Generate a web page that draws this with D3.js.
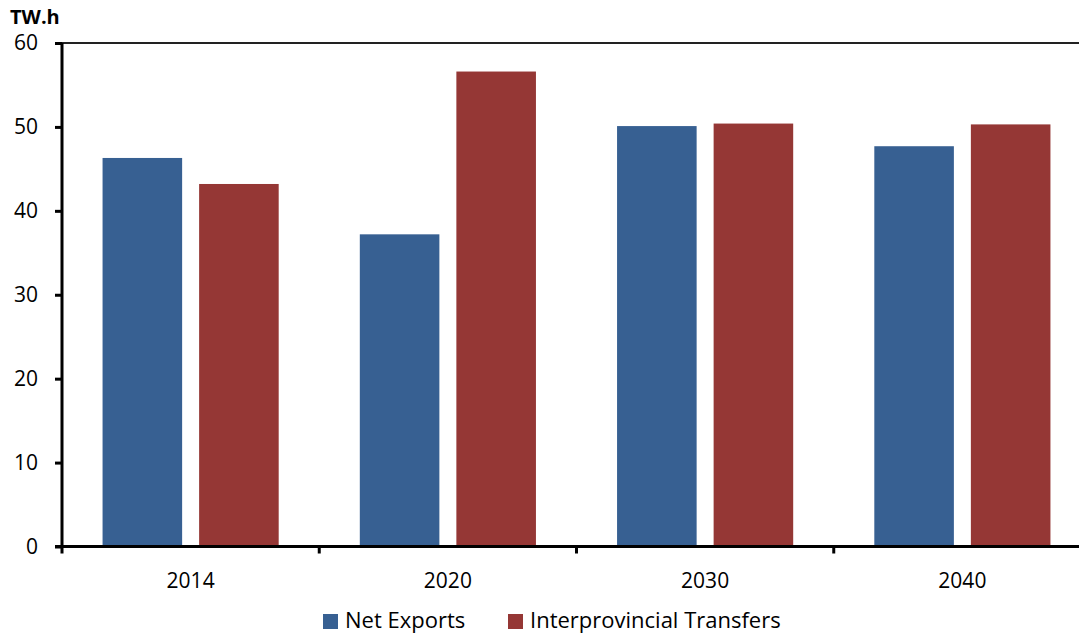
<!DOCTYPE html>
<meta charset="utf-8">
<style>
body { margin: 0; background: #fff; }
svg text { font-family: "Open Sans", Calibri, sans-serif; fill: #000; }
.axis text { font-size: 21px; }
.axis path, .axis line { stroke: #000; stroke-width: 3px; }
</style>
<body>
<script src="https://cdn.jsdelivr.net/npm/d3@7/dist/d3.min.js"></script>
<script>
// data
var years = ["2014", "2020", "2030", "2040"];
var seriesNames = ["Net Exports", "Interprovincial Transfers"];
var netExports = [46.3, 37.2, 50.1, 47.7];
var interTransfers = [43.2, 56.6, 50.4, 50.3];
var yTicks = [0, 10, 20, 30, 40, 50, 60];
var colors = ["#376092", "#953735"];

var margin = {top: 43, left: 62},
    width = 1029,   // plot runs past the right edge, like the original
    height = 503.5;

var svg = d3.select("body").append("svg")
    .attr("width", 1079)
    .attr("height", 635);

var g = svg.append("g")
    .attr("transform", "translate(" + margin.left + "," + margin.top + ")");

var x0 = d3.scaleBand().domain(years).range([0, width]);
var x1 = d3.scaleBand().domain(seriesNames)
    .range([0, x0.bandwidth()])
    .paddingInner(0.176)
    .paddingOuter(0.42);
var y = d3.scaleLinear().domain([0, 60]).range([height, 0]);

// plot border (top / right)
g.append("rect")
    .attr("x", 0).attr("y", 0)
    .attr("width", width).attr("height", height)
    .attr("fill", "none")
    .attr("stroke", "#222")
    .attr("stroke-width", 2);

var rows = years.map(function(yr, i) {
  return {year: yr, values: [netExports[i], interTransfers[i]]};
});

g.selectAll(".grp")
  .data(rows)
  .enter().append("g")
    .attr("transform", function(d) { return "translate(" + x0(d.year) + ",0)"; })
  .selectAll("rect")
  .data(function(d) { return d.values.map(function(v, j) { return {name: seriesNames[j], v: v, c: colors[j]}; }); })
  .enter().append("rect")
    .attr("x", function(d) { return x1(d.name); })
    .attr("width", x1.bandwidth())
    .attr("y", function(d) { return y(d.v); })
    .attr("height", function(d) { return height - y(d.v); })
    .attr("fill", function(d) { return d.c; });

// y axis
var yAxis = g.append("g").attr("class", "axis")
    .call(d3.axisLeft(y).tickValues(yTicks).tickSize(7).tickPadding(17));
yAxis.select(".domain").attr("d", "M0," + (height + 7) + "V0");

// x axis: ticks at category boundaries
var xAxis = g.append("g").attr("class", "axis")
    .attr("transform", "translate(0," + height + ")");
xAxis.append("line").attr("x1", -7).attr("x2", width);
xAxis.selectAll(".tk")
  .data(years.slice(1))
  .enter().append("line")
    .attr("x1", function(d) { return x0(d); })
    .attr("x2", function(d) { return x0(d); })
    .attr("y1", 0).attr("y2", 7);
xAxis.selectAll(".lbl")
  .data(years)
  .enter().append("text")
    .attr("x", function(d) { return x0(d) + x0.bandwidth() / 2; })
    .attr("y", 41)
    .attr("text-anchor", "middle")
    .text(function(d) { return d; });

// unit label
svg.append("text")
    .attr("x", 10).attr("y", 24)
    .style("font-size", "20px")
    .style("font-weight", "bold")
    .text("TW.h");

// legend
var legX = [323, 508];
var leg = svg.selectAll(".leg")
  .data(seriesNames)
  .enter().append("g")
    .attr("transform", function(d, i) { return "translate(" + legX[i] + ",613)"; });
leg.append("rect")
    .attr("y", 1)
    .attr("width", 15).attr("height", 15)
    .attr("fill", function(d, i) { return colors[i]; });
leg.append("text")
    .attr("x", 22).attr("y", 15)
    .style("font-size", "22px")
    .text(function(d) { return d; });
</script>
</body>
